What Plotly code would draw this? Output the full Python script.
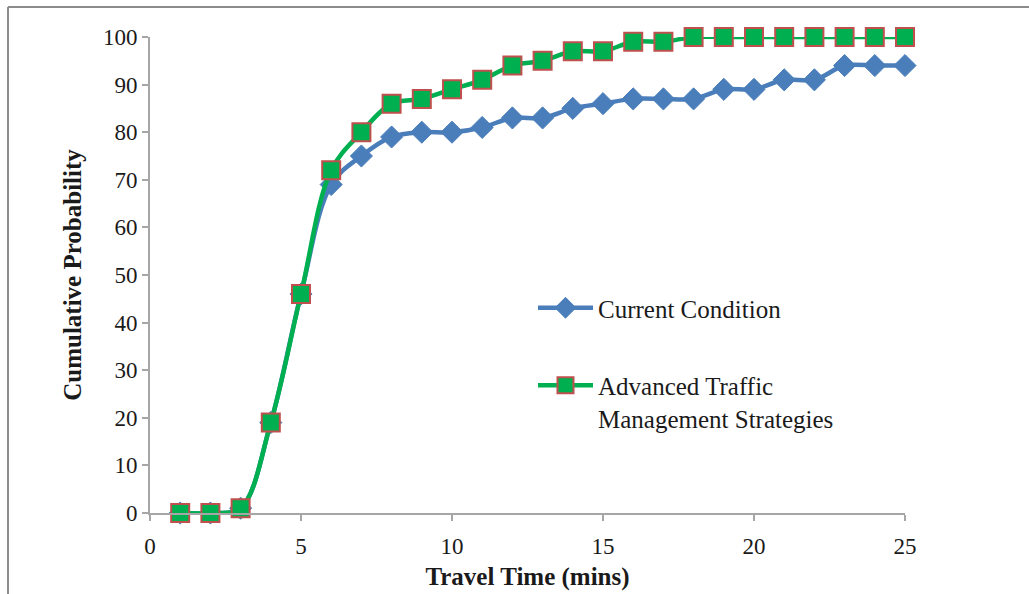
import plotly.graph_objects as go

# Travel time in minutes
travel_time = list(range(1, 26))

# Cumulative probability (%) for each scenario
current_condition = [0, 0, 1, 19, 46, 69, 75, 79, 80, 80, 81, 83, 83, 85, 86,
                     87, 87, 87, 89, 89, 91, 91, 94, 94, 94]
advanced_strategies = [0, 0, 1, 19, 46, 72, 80, 86, 87, 89, 91, 94, 95, 97, 97,
                       99, 99, 100, 100, 100, 100, 100, 100, 100, 100]

x_ticks = [0, 5, 10, 15, 20, 25]
y_ticks = list(range(0, 101, 10))

FONT = "Liberation Serif, Times New Roman, serif"
W, H = 1029, 594
L, R, T, B = 150, 124, 37, 81

fig = go.Figure()

fig.add_trace(go.Scatter(
    x=travel_time, y=current_condition, name="Current Condition",
    legendgroup="current", cliponaxis=False,
    mode="lines+markers",
    line=dict(color="#4A7EBB", width=4.5, shape="spline", smoothing=1.0),
    marker=dict(symbol="diamond", size=17, color="#4A7EBB",
                line=dict(color="#4A7EBB", width=1)),
))

fig.add_trace(go.Scatter(
    x=travel_time, y=advanced_strategies,
    name="Advanced Traffic<br>Management Strategies",
    legendgroup="advanced", cliponaxis=False,
    mode="lines+markers",
    line=dict(color="#00B050", width=4.5, shape="spline", smoothing=1.0),
    marker=dict(symbol="square", size=18, color="#00B050",
                line=dict(color="#C0504D", width=2)),
))

pw, ph = W - L - R, H - T - B
def px(xp):
    return (xp - L) / pw
def py(yp):
    return (H - B - yp) / ph

# outer frame: top and left edges
fig.add_shape(type="line", xref="paper", yref="paper",
              x0=px(8), y0=py(7), x1=px(W + 5), y1=py(7),
              line=dict(color="#8C8C8C", width=2))
fig.add_shape(type="line", xref="paper", yref="paper",
              x0=px(8), y0=py(7), x1=px(8), y1=py(H + 5),
              line=dict(color="#8C8C8C", width=2))

axis_common = dict(
    showgrid=False, zeroline=False, showline=True,
    linecolor="#A6A6A6", linewidth=2,
    ticks="outside", tickcolor="#A6A6A6", tickwidth=1.5, ticklen=6,
    tickfont=dict(family=FONT, size=23, color="#1a1a1a"),
    automargin=False,
)

fig.update_xaxes(
    range=[0, 25], tickvals=x_ticks, ticktext=[str(v) for v in x_ticks],
    ticklabelstandoff=5,
    title=dict(text="<b>Travel Time (mins)</b>",
               font=dict(family=FONT, size=25, color="#1a1a1a"), standoff=10),
    **axis_common,
)
fig.update_yaxes(
    range=[0, 100], tickvals=y_ticks, ticktext=[str(v) for v in y_ticks],
    title=dict(text="<b>Cumulative Probability</b>",
               font=dict(family=FONT, size=25, color="#1a1a1a"), standoff=14),
    **axis_common,
)

fig.update_layout(
    width=W, height=H,
    margin=dict(l=L, r=R, t=T, b=B),
    paper_bgcolor="white", plot_bgcolor="white",
    showlegend=True,
    legend=dict(
        x=px(533), y=py(285), xanchor="left", yanchor="top",
        bgcolor="rgba(0,0,0,0)", borderwidth=0,
        font=dict(family=FONT, size=25, color="#1a1a1a"),
        tracegroupgap=42, itemwidth=55, valign="top",
    ),
)

fig.write_html("out.html")
